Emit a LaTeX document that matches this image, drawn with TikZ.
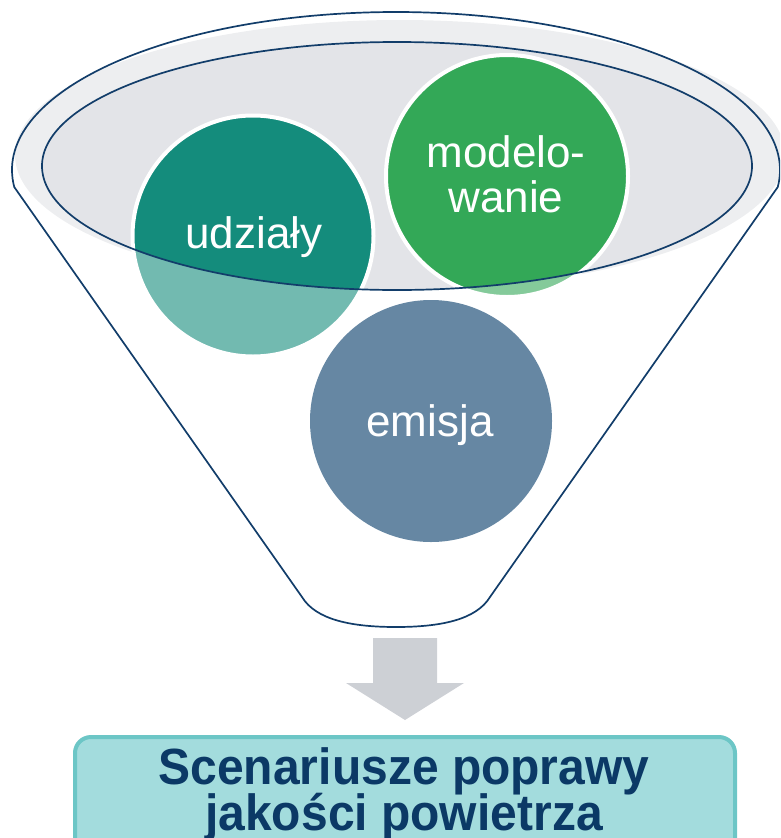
\documentclass[tikz,border=0pt]{standalone}
\usepackage{fontspec}
\usepackage{graphicx}
\setmainfont{Liberation Sans}
\usetikzlibrary{calc}
\definecolor{navyline}{HTML}{123D6A}
\definecolor{rimgrey}{HTML}{EDEEF0}
\definecolor{mouthgrey}{HTML}{E3E4E8}
\definecolor{tealc}{HTML}{148C7C}
\definecolor{greenc}{HTML}{33A857}
\definecolor{slatec}{HTML}{6687A3}
\definecolor{arrowgrey}{HTML}{CDD0D5}
\definecolor{boxfill}{HTML}{A3DCDD}
\definecolor{boxedge}{HTML}{6CC6C6}
\definecolor{boxtext}{HTML}{0B3966}
\newcommand{\talltext}[1]{\scalebox{1}[1.06]{#1}}
\tikzset{
  funnelline/.style={draw=navyline, line width=1.7pt},
  bubble/.style={circle, draw=white, line width=4pt, inner sep=0pt},
  bubbletext/.style={anchor=base, text=white, font=\fontsize{44}{46}\selectfont, inner sep=0pt},
  resulttext/.style={anchor=base, text=boxtext, font=\fontsize{48}{48}\selectfont\bfseries, inner sep=0pt},
}
\begin{document}
\begin{tikzpicture}[x=1pt,y=-1pt]
\useasboundingbox (0,0) rectangle (780,838);
\clip (0,0) rectangle (780,838);

% rim of the funnel
\fill[rimgrey] (400,155) ellipse [x radius=385, y radius=135];
\fill[mouthgrey] (397,166) ellipse [x radius=355, y radius=124];

% bubbles resting in the mouth
\node[bubble, fill=tealc, minimum size=241pt] (udz) at (253,236) {};
\node[bubble, fill=greenc, minimum size=242pt] (mod) at (507,176) {};

% the cone hides the lower parts of the bubbles
\begin{scope}
  \clip (udz.center) circle (122) (mod.center) circle (123);
  \fill[white, opacity=0.4, even odd rule] (0,0) rectangle (780,838)
    (397,166) ellipse [x radius=355, y radius=124];
\end{scope}

\node[bubbletext] (udzt) at (254,248) {udziały};
\node[bubbletext] (modt1) at (506,167) {modelo-};
\node[bubbletext] (modt2) at (506,212) {wanie};

% funnel outlines
\draw[funnelline] (397,166) ellipse [x radius=355, y radius=124];
\coordinate (ctr) at (396,170);
\draw[funnelline, line join=round]
  ($(ctr)+(173.8:384 and 158)$)
  arc[start angle=173.8, end angle=366.2, x radius=384, y radius=158]
  -- (490,597)
  .. controls (476,620) and (440,627) .. (396,627)
  .. controls (352,627) and (316,620) .. (302,597)
  -- cycle;

% third bubble inside the cone
\node[bubble, fill=slatec, draw=none, minimum size=242pt] (emi) at (431,421) {};
\node[bubbletext] (emit) at (430,436) {emisja};

% block arrow
\fill[arrowgrey] (373,638) -- (437,638) -- (437,683) -- (464,683)
  -- (405,720) -- (346,683) -- (373,683) -- cycle;

% result box
\draw[draw=boxedge, fill=boxfill, line width=4pt, rounded corners=16pt]
  (75,737) rectangle (735,880);
\node[resulttext] (res1) at (404,784) {\talltext{Scenariusze poprawy}};
\node[resulttext] (res2) at (404,830) {\talltext{jakości powietrza}};
\end{tikzpicture}
\end{document}
